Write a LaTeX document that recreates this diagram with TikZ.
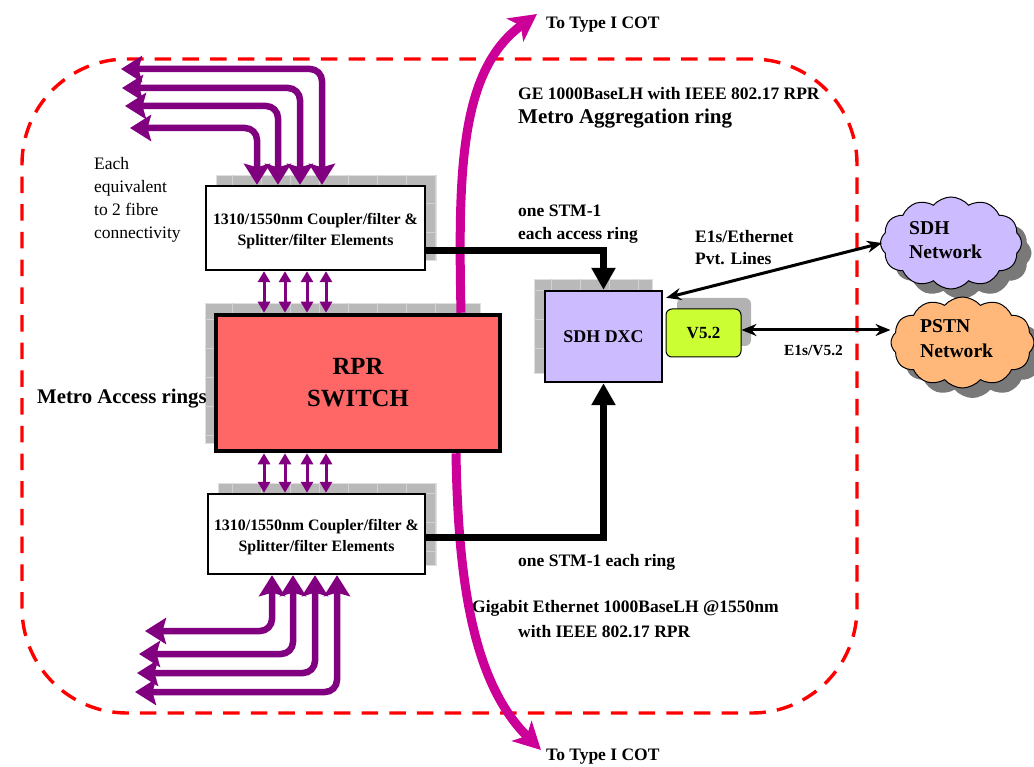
\documentclass[tikz,border=0pt]{standalone}
\usepackage{fontspec}
\setmainfont{Liberation Serif}
\usetikzlibrary{arrows.meta,shapes.symbols,shadows}

\definecolor{fibrepurple}{HTML}{800080}
\definecolor{cotmagenta}{HTML}{CC0099}
\definecolor{switchred}{HTML}{FF6666}
\definecolor{lavender}{HTML}{CCBBFF}
\definecolor{vlime}{HTML}{CCFF33}
\definecolor{pstnorange}{HTML}{FFB879}

\tikzset{
    ringline/.style={red, line width=3.4pt, dash pattern=on 16.5pt off 11.2pt},
    patchfill/.style={fill=gray!55, draw=gray!25, line width=.8pt},
    patchgrid/.style={gray!35, line width=.5pt},
    boxnode/.style={draw, line width=2.4pt, fill=white, inner sep=0pt, align=center, font=\bfseries\fontsize{15.9}{21}\selectfont},
    labeltext/.style={inner sep=0pt, anchor=west, align=left, font=\bfseries\fontsize{17.5}{22.5}\selectfont},
    cloudnode/.style={cloud, cloud puffs=12, cloud puff arc=100, draw, line width=1pt, inner sep=0pt,
        drop shadow={shadow xshift=10pt, shadow yshift=-10pt, fill=gray!95!black, opacity=1}},
    fibrehead/.tip={Stealth[length=21pt, width=26pt, inset=3.5pt]},
    fibre/.style={draw=fibrepurple, line width=6.5pt, rounded corners=12pt, fibrehead-fibrehead},
    tieline/.style={fibrepurple, line width=3pt, {Triangle[length=11pt, width=12pt]}-{Triangle[length=11pt, width=12pt]}},
    cotline/.style={cotmagenta, line width=9pt, -{Stealth[length=27pt, width=28pt, inset=7pt]}},
    stmline/.style={line width=7pt, -{Triangle[length=22pt, width=23pt]}},
    lineline/.style={line width=3pt, {Stealth[length=15pt, width=12pt]}-{Stealth[length=15pt, width=12pt]}},
}
\newcommand{\gridpatch}[4]{%
    \draw[patchfill] (#1,#2) rectangle (#3,#4);
    \draw[patchgrid, step=29pt] (#1,#2) grid (#3,#4);
}

\begin{document}
\begin{tikzpicture}[x=1pt, y=-1pt]
    \useasboundingbox (0,0) rectangle (1034,767);

    % Metro access boundary
    \draw[ringline] (22,59) [rounded corners=105pt] -- (857,59) -- (857,713) -- (22,713) -- cycle;

    % Grey patches behind the boxes
    \gridpatch{216}{175}{436}{260}
    \gridpatch{205}{303}{480}{443}
    \gridpatch{218}{483}{436}{565}
    \gridpatch{534}{279}{652}{373}
    \fill[gray!60, rounded corners=6pt] (677,298) rectangle (751,346);

    % Boxes
    \node[boxnode, minimum width=219pt, minimum height=84pt] (ucoup) at (315.5,228) {\rule{0pt}{18pt}1310/1550nm Coupler/filter \&\\Splitter/filter Elements};
    \node[boxnode, minimum width=284pt, minimum height=136pt, line width=4.5pt, fill=switchred, font=\bfseries\fontsize{24.7}{32}\selectfont] (rpr) at (358,383) {RPR\\SWITCH};
    \node[boxnode, minimum width=217pt, minimum height=80pt] (lcoup) at (316.5,534) {\rule{0pt}{18pt}1310/1550nm Coupler/filter \&\\Splitter/filter Elements};
    \node[boxnode, minimum width=117pt, minimum height=91pt, fill=lavender, font=\bfseries\fontsize{17.9}{18}\selectfont] (dxc) at (603.5,336.5) {SDH DXC};
    \node[boxnode, minimum width=75pt, minimum height=48pt, line width=1pt, rounded corners=6pt, fill=vlime, font=\bfseries\fontsize{17}{18}\selectfont] (vfive) at (703.5,333) {V5.2};

    % Clouds
    \node[cloudnode, fill=lavender, minimum width=141pt, minimum height=92pt] (sdhcloud) at (951,243) {};
    \node[cloudnode, fill=pstnorange, minimum width=143pt, minimum height=91pt] (pstncloud) at (962.5,342.5) {};
    \node[labeltext, font=\bfseries\fontsize{19.6}{24.5}\selectfont] (sdhtext) at (909,240) {SDH\\Network};
    \node[labeltext, font=\bfseries\fontsize{19.6}{25}\selectfont] (pstntext) at (920,339) {PSTN\\Network};

    % Labels
    \node[labeltext] (cottop) at (546,25) {To Type I COT};
    \node[labeltext] (cotbot) at (546,757) {To Type I COT};
    \node[labeltext] (getext) at (518,94) {GE 1000BaseLH with IEEE 802.17 RPR};
    \node[labeltext, font=\bfseries\fontsize{21}{22}\selectfont] (aggtext) at (518,119) {Metro Aggregation ring};
    \node[labeltext, font=\fontsize{17.5}{23}\selectfont] (eachtext) at (94,200) {Each\\equivalent\\to 2 fibre\\connectivity};
    \node[labeltext, font=\bfseries\fontsize{20.8}{22}\selectfont] (accesstext) at (37,399) {Metro Access rings};
    \node[labeltext] (stmtop) at (518,224) {one STM-1\\each access ring};
    \node[labeltext] (e1eth) at (695,247.5) {E1s/Ethernet\\Pvt. Lines};
    \node[labeltext, font=\bfseries\fontsize{15.4}{15}\selectfont] (e1v) at (784,351) {E1s/V5.2};
    \node[labeltext] (stmbot) at (518,562) {one STM-1 each ring};
    \node[labeltext] (gigtext) at (472,608) {Gigabit Ethernet 1000BaseLH @1550nm};
    \node[labeltext] (rprtext) at (518,632) {with IEEE 802.17 RPR};

    % Fibres to the upper access rings
    \foreach \n/\xa/\ya/\dx in {1/121/69/6.5, 2/122/88/-15.5, 3/125/106/-37.5, 4/130/128/-58.5}{
        \coordinate (ufibre\n) at (\xa,\ya);
        \draw[fibre] (ufibre\n) -| ([xshift=\dx pt]ucoup.north);
    }

    % Fibres to the lower access rings
    \foreach \n/\xa/\ya/\dx in {1/145/631/-44.5, 2/139/654/-23.5, 3/137/673/-1.5, 4/135/692/20.5}{
        \coordinate (lfibre\n) at (\xa,\ya);
        \draw[fibre] (lfibre\n) -| ([xshift=\dx pt]lcoup.south);
    }

    % Short ties to the switch
    \foreach \dx in {-94,-73,-51,-32}{
        \draw[tieline] ([xshift=\dx pt]rpr.north) -- ([xshift=\dx pt]rpr.north |- ucoup.south);
        \draw[tieline] ([xshift=\dx pt]rpr.south) -- ([xshift=\dx pt]rpr.south |- lcoup.north);
    }

    % Type I COT
    \draw[cotline] ([xshift=103pt]rpr.north) .. controls (458,170) and (460,70) .. ([shift={(-9pt,11pt)}]cottop.west);
    \draw[cotline] ([xshift=98pt]rpr.south) .. controls (458,570) and (470,680) .. ([shift={(-5pt,7pt)}]cotbot.west);

    % STM-1 trunks
    \draw[stmline] ([yshift=-23pt]ucoup.east) -| (dxc.north);
    \draw[stmline] ([yshift=-3pt]lcoup.east) -| (dxc.south);

    % Lines to the networks
    \draw[lineline] ([shift={(3pt,-8pt)}]dxc.north east) -- ([xshift=2pt]sdhcloud.west);
    \draw[lineline] ([yshift=3pt]vfive.east) -- ([yshift=3pt]vfive.east -| pstncloud.west);
\end{tikzpicture}
\end{document}
